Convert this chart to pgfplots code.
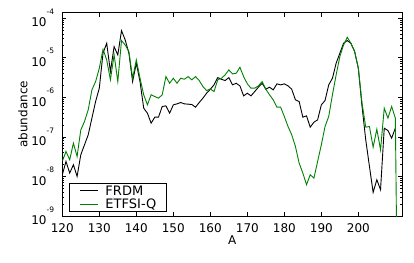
\documentclass[border=0pt]{standalone}
\usepackage{fontspec}
\setmainfont{DejaVu Sans}
\usepackage{pgfplots}
\pgfplotsset{compat=1.18}
\definecolor{mplgreen}{RGB}{0,128,0}
\newcommand{\tl}[1]{10\raisebox{12.5pt}{\fontsize{7.5}{7.5}\selectfont -#1}}
\pgfplotstableread{
A y
120 1.10e-8
121 2.39e-8
122 1.21e-8
123 1.97e-8
124 1.00e-8
125 3.52e-8
126 6.28e-8
127 1.12e-7
128 2.96e-7
129 7.78e-7
130 1.69e-6
131 1.29e-5
132 2.30e-5
133 4.44e-6
134 1.89e-5
135 1.17e-5
136 4.80e-5
137 2.79e-5
138 1.29e-5
139 2.48e-6
140 7.19e-6
141 2.48e-6
142 5.28e-7
143 3.95e-7
144 2.21e-7
145 3.13e-7
146 3.13e-7
147 5.82e-7
148 6.05e-7
149 3.95e-7
150 6.41e-7
151 6.79e-7
152 7.34e-7
153 6.79e-7
154 6.67e-7
155 6.53e-7
156 5.60e-7
157 7.34e-7
158 9.44e-7
159 1.26e-6
160 1.59e-6
161 2.05e-6
162 3.13e-6
163 2.84e-6
164 2.63e-6
165 3.13e-6
166 2.05e-6
167 2.25e-6
168 1.93e-6
169 1.08e-6
170 1.26e-6
171 1.08e-6
172 1.39e-6
173 1.79e-6
174 2.25e-6
175 1.59e-6
176 1.79e-6
177 1.53e-6
178 2.17e-6
179 2.05e-6
180 2.17e-6
181 1.93e-6
182 1.59e-6
183 8.57e-7
184 7.78e-7
185 3.13e-7
186 3.38e-7
187 1.75e-7
188 2.34e-7
189 2.68e-7
190 6.41e-7
191 8.24e-7
192 2.05e-6
193 3.01e-6
194 7.19e-6
195 1.29e-5
196 2.30e-5
197 2.69e-5
198 2.30e-5
199 1.42e-5
200 5.38e-6
201 5.82e-7
202 8.40e-8
203 1.79e-8
204 3.95e-9
205 8.24e-9
206 4.61e-9
207 1.65e-7
208 1.44e-7
209 9.25e-8
210 1.65e-7
}\frdm
\pgfplotstableread{
A y
120 2.39e-8
121 4.27e-8
122 2.63e-8
123 6.92e-8
124 3.19e-8
125 1.50e-7
126 2.44e-7
127 4.80e-7
128 1.53e-6
129 2.48e-6
130 5.38e-6
131 1.62e-5
132 8.73e-6
133 2.74e-6
134 1.17e-5
135 2.48e-6
136 2.69e-5
137 2.08e-5
138 1.42e-5
139 3.01e-6
140 8.73e-6
141 3.01e-6
142 1.15e-6
143 6.41e-7
144 1.15e-6
145 1.04e-6
146 9.44e-7
147 1.15e-6
148 3.32e-6
149 2.25e-6
150 3.01e-6
151 2.25e-6
152 3.01e-6
153 2.84e-6
154 3.32e-6
155 2.74e-6
156 3.32e-6
157 2.63e-6
158 1.86e-6
159 1.47e-6
160 1.62e-6
161 1.39e-6
162 2.74e-6
163 3.01e-6
164 3.66e-6
165 4.89e-6
166 3.87e-6
167 4.03e-6
168 5.70e-6
169 3.32e-6
170 2.17e-6
171 1.69e-6
172 1.69e-6
173 1.93e-6
174 2.48e-6
175 1.59e-6
176 1.15e-6
177 8.57e-7
178 5.60e-7
179 5.60e-7
180 3.26e-7
181 1.82e-7
182 1.12e-7
183 5.70e-8
184 2.17e-8
185 1.21e-8
186 6.17e-9
187 1.10e-8
188 9.08e-9
189 2.39e-8
190 6.28e-8
191 1.82e-7
192 3.26e-7
193 1.15e-6
194 3.66e-6
195 1.06e-5
196 2.08e-5
197 3.26e-5
198 2.30e-5
199 1.42e-5
200 5.38e-6
201 7.06e-7
202 1.75e-7
203 1.82e-7
204 5.48e-8
205 1.56e-7
206 4.70e-8
207 5.28e-7
208 2.96e-7
209 5.82e-7
210 2.96e-7
211 1e-15
}\etfsi
\begin{document}
\begin{tikzpicture}
\begin{axis}[
  scale only axis, width=339.7pt, height=203.3pt,
  at={(0,0)}, anchor=south west,
  xmin=120, xmax=211.8, ymode=log, ymin=1e-9, ymax=1.36e-4,
  xtick={120,130,...,200},
  ytick={1e-9,1e-8,1e-7,1e-6,1e-5,1e-4},
  yticklabels={\tl{9},\tl{8},\tl{7},\tl{6},\tl{5},\tl{4}},
  tick align=inside,
  major tick length=4pt, minor tick length=2pt,
  every tick/.style={black, line width=0.5pt},
  axis line style={line width=0.8pt},
  /pgf/number format/assume math mode=true,
  ticklabel style={font=\fontsize{12}{12}\selectfont, inner sep=0pt},
  xticklabel style={yshift=-7pt},
  yticklabel style={xshift=-8pt},
  xlabel={A}, ylabel={abundance},
  label style={font=\fontsize{12}{12}\selectfont, inner sep=0pt},
  xlabel style={at={(axis description cs:0.5,0)}, anchor=north, yshift=-20pt},
  ylabel style={at={(axis description cs:0,0.5)}, rotate=0, anchor=center, yshift=39.5pt},
  legend cell align=left,
  legend image code/.code={\draw[#1] (0pt,0pt) -- (18pt,0pt);},
  legend style={at={(axis description cs:0.0206,0.0197)}, anchor=south west,
    draw=black, line width=0.6pt, inner xsep=10pt, inner ysep=3pt, row sep=3.5pt,
    font=\fontsize{13}{13}\selectfont,
    nodes={inner sep=0pt, text height=9.5pt, text depth=0pt},
    /tikz/every odd column/.append style={column sep=7pt}},
]
\addplot[black, line width=0.9pt] table[x=A, y=y] {\frdm};
\addlegendentry{FRDM}
\addplot[mplgreen, line width=0.9pt] table[x=A, y=y] {\etfsi};
\addlegendentry{ETFSI-Q}
\coordinate (sw) at (rel axis cs:0,0);
\coordinate (ne) at (rel axis cs:1,1);
\end{axis}
\pgfresetboundingbox
\path ([shift={(-62.3pt,-46pt)}]sw) rectangle ([shift={(12pt,12.7pt)}]ne);
\end{tikzpicture}
\end{document}
